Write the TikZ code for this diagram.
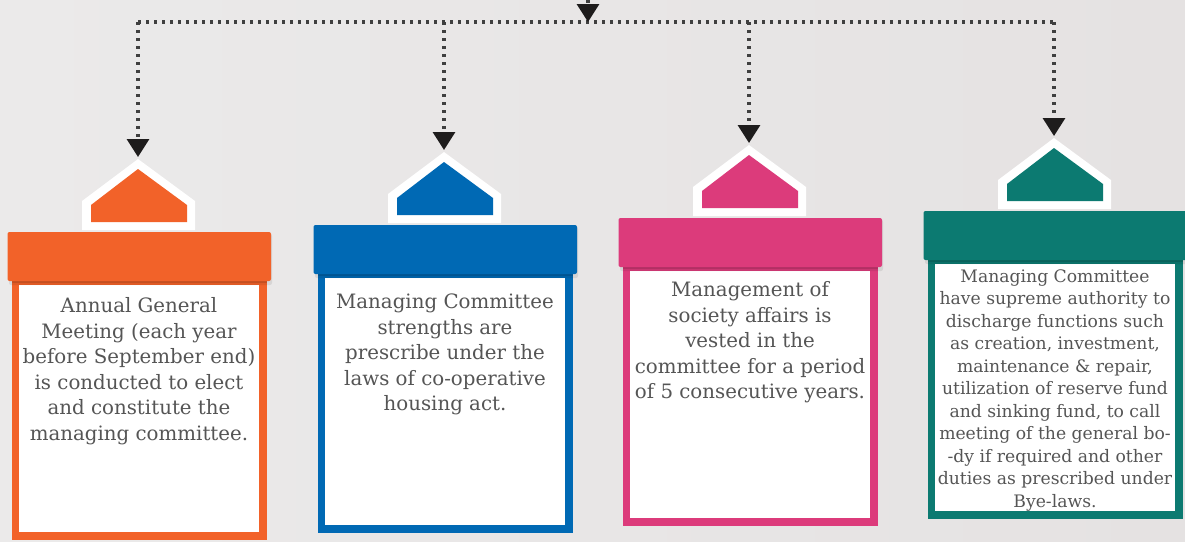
\documentclass[tikz,border=0pt]{standalone}
\usepackage{fontspec}
\setmainfont{DejaVu Serif}
\usetikzlibrary{arrows.meta}
\definecolor{bgA}{HTML}{EBEAEA}
\definecolor{bgB}{HTML}{E5E2E2}
\definecolor{cOrange}{HTML}{F26229}
\definecolor{cBlue}{HTML}{0069B4}
\definecolor{cPink}{HTML}{DC3B7B}
\definecolor{cTeal}{HTML}{0C7A71}
\definecolor{txtgray}{HTML}{555555}
\definecolor{dotgray}{HTML}{3F3F3F}
\definecolor{tipblack}{HTML}{1E1C1C}
\newcommand{\txtA}{\fontsize{19.8}{25.5}\selectfont}
\newcommand{\txtB}{\fontsize{17.2}{22.5}\selectfont}
\tikzset{
  dotline/.style={draw=dotgray, line width=3.2pt, dash pattern=on 3.2pt off 4.8pt},
  arrowline/.style={dotline, -{Triangle[width=22pt,length=18pt,color=tipblack]}},
  bodytext/.style={text=txtgray, align=center, inner sep=0pt},
}
% #1 name, #2 c, #3 t, #4 colour, #5 text y, #6 font, #7 text
\newcommand{\housecol}[7]{%
  \coordinate (#1apex) at (#2,#3);
  \fill[white] (#2,#3) -- ({#2+57},{#3+42}) -- ({#2+57},{#3+71}) -- ({#2-56},{#3+71}) -- ({#2-56},{#3+42}) -- cycle;
  \fill[#4] (#2,{#3+10}) -- ({#2+49},{#3+46}) -- ({#2+49},{#3+63}) -- ({#2-47},{#3+63}) -- ({#2-47},{#3+46}) -- cycle;
  \fill[#4] ({#2+1-127.5},{#3+118}) rectangle ({#2+1+127.5},{#3+381});
  \fill[white] ({#2+1-120},{#3+126}) rectangle ({#2+1+120},{#3+373});
  \fill[#4!88!black] ({#2+1-127.5},{#3+120}) rectangle ({#2+1+127.5},{#3+124});
  \fill[black, opacity=0.08, rounded corners=2pt] ({#2+1-130},{#3+75}) rectangle ({#2+1+133},{#3+126});
  \fill[#4, rounded corners=2pt] ({#2+1-131.5},{#3+73}) rectangle ({#2+1+132},{#3+122});
  \node[bodytext, font=#6] (#1text) at ({#2+1},#5) {#7};
}
\begin{document}
\begin{tikzpicture}[x=1pt,y=-1pt]
\useasboundingbox (0,0) rectangle (1185,541);
\shade[left color=bgA, right color=bgB] (0,0) rectangle (1185,541);

\housecol{a}{138}{159}{cOrange}{371}{\txtA}{Annual General\\Meeting (each year\\before September end)\\is conducted to elect\\and constitute the\\managing committee.}
\housecol{b}{444}{152}{cBlue}{354.5}{\txtA}{Managing Committee\\strengths are\\prescribe under the\\laws of co-operative\\housing act.}
\housecol{c}{749}{145}{cPink}{342.5}{\txtA}{Management of\\society affairs is\\vested in the\\committee for a period\\of 5 consecutive years.}
\housecol{d}{1054}{138}{cTeal}{390.5}{\txtB}{Managing Committee\\have supreme authority to\\discharge functions such\\as creation, investment,\\maintenance \& repair,\\utilization of reserve fund\\and sinking fund, to call\\meeting of the general bo-\\-dy if required and other\\duties as prescribed under\\Bye-laws.}

\coordinate (ja) at (138,22);
\coordinate (jb) at (444,22);
\coordinate (jc) at (749,22);
\coordinate (jd) at (1054,22);
\coordinate (src) at (588,0);
\coordinate (jtop) at (588,22);

\draw[dotline] (ja) -- (jd);
\draw[arrowline, shorten >=2pt] (ja) -- (aapex);
\draw[arrowline, shorten >=2pt] (jb) -- (bapex);
\draw[arrowline, shorten >=2pt] (jc) -- (capex);
\draw[arrowline, shorten >=2pt] (jd) -- (dapex);
\draw[arrowline] (src) -- (jtop);
\end{tikzpicture}
\end{document}
